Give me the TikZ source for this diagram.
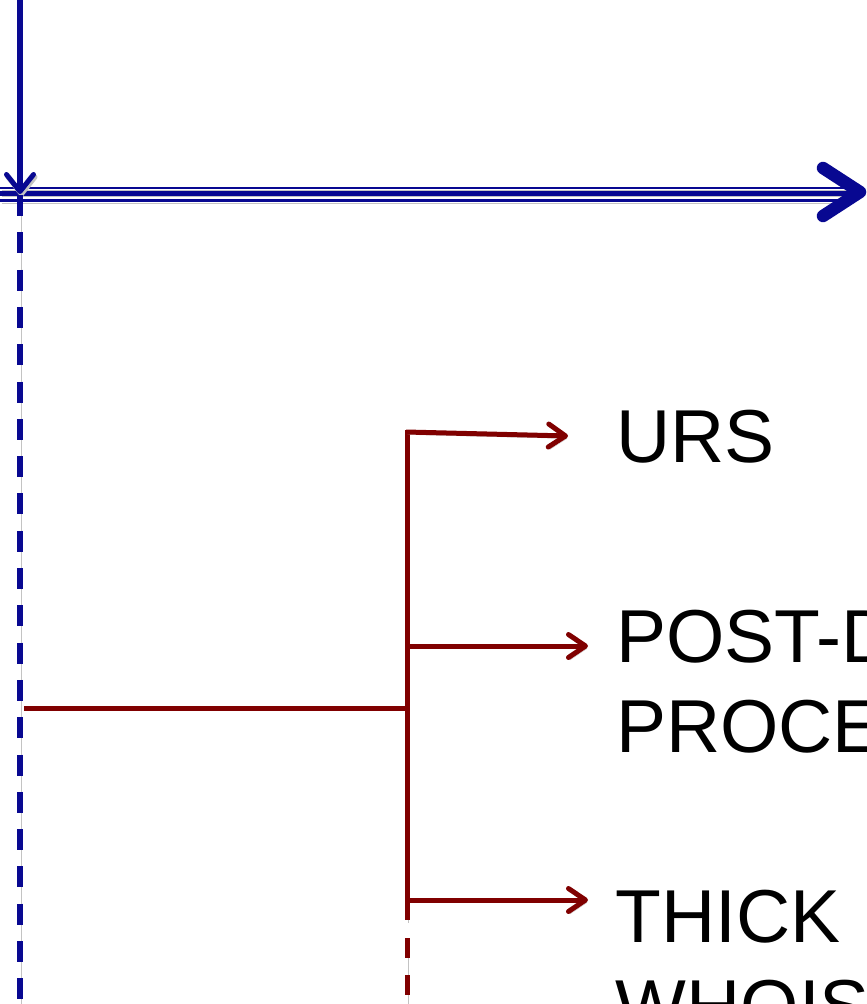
\documentclass[tikz,border=0pt]{standalone}
\usepackage{fontspec}
\setmainfont{Liberation Sans}
\usetikzlibrary{arrows.meta}
\definecolor{navy}{RGB}{8,8,145}
\definecolor{maroon}{RGB}{128,0,0}
\definecolor{shadowgray}{RGB}{195,195,195}

\begin{document}
\begin{tikzpicture}[x=1pt,y=-1pt,
  drop/.style={preaction={draw=shadowgray, transform canvas={shift={(1.5pt,-2.5pt)}}}},
  blueline/.style={draw=navy, line width=5.5pt},
  thinblue/.style={draw=navy, line width=2.8pt},
  redline/.style={draw=maroon, line width=5pt},
  bluetip/.style={-{Straight Barb[length=17pt,width=27pt,line width=5pt,round]}},
  redtip/.style={-{Straight Barb[length=17pt,width=23pt,line width=5pt,round]}},
  label/.style={font=\fontsize{75}{90}\selectfont, anchor=base west, inner sep=0pt, align=left}
]
\useasboundingbox (0,0) rectangle (867,1004);
\clip (0,0) rectangle (867,1004);
\fill[white] (0,0) rectangle (867,1004);

% time line: triple rule with a heavy chevron head
\coordinate (tl-start) at (0,193.5);
\coordinate (tl-end) at (852,193.5);
\draw[thinblue, drop] (0,188) -- (848,188);
\draw[thinblue, drop] (0,200.5) -- (848,200.5);
\draw[blueline, drop] (tl-start) -- (tl-end);
\draw[navy, line width=12.5pt, line cap=round, line join=round, drop]
  (823,168) -- (860,192) -- (823,216);

% incoming vertical marker and its dashed continuation
\coordinate (v-top) at (20,0);
\coordinate (v-hit) at (20,194);
\coordinate (v-bottom) at (20,1004);
\draw[blueline, bluetip, drop] (v-top) -- (v-hit);
\draw[blueline, dash pattern=on 21pt off 16.3pt, drop] (20,195) -- (v-bottom);

% labels (base west sits on the last line's baseline)
\node[label] (urs) at (616,462) {URS};
\node[label] (pdp) at (616,752) {POST-DELEGATION\\PROCEDURE};
\node[label] (thick) at (615.5,1032) {THICK\\WHOIS};

% red branch
\coordinate (r-left) at (24,708);
\coordinate (r-join) at (407,708);
\coordinate (r-top) at (407,430);
\coordinate (r-solid-end) at (407,920);
\coordinate (b1) at (406,432);
\coordinate (b2) at (407,646);
\coordinate (b3) at (407,900);
\coordinate (t1) at (568,436);
\coordinate (t2) at (588,646);
\coordinate (t3) at (588,900);

\draw[redline, drop] (r-left) -- (r-join);
\draw[redline, drop] (r-top) -- (r-solid-end);
\draw[redline, dash pattern=on 20pt off 17pt, drop] (407,938) -- (407,1010);
\draw[redline, redtip, drop] (b1) -- (t1);
\draw[redline, redtip, drop] (b2) -- (t2);
\draw[redline, redtip, drop] (b3) -- (t3);
\end{tikzpicture}
\end{document}
